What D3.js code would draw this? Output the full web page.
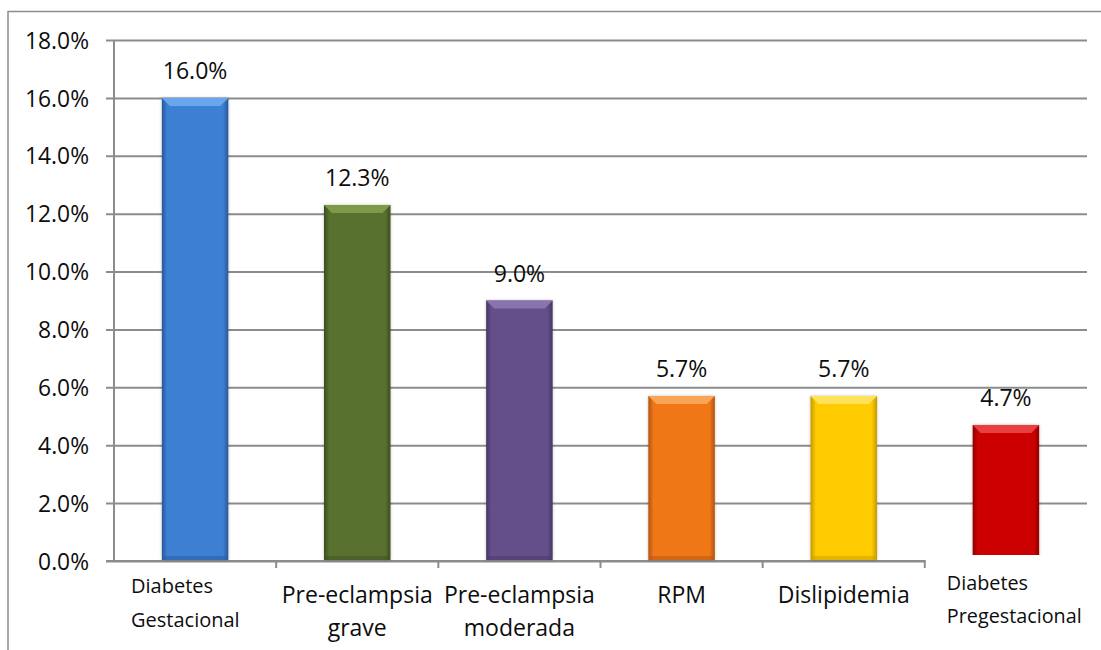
<!DOCTYPE html>
<html>
<head>
<meta charset="utf-8">
<script src="https://cdn.jsdelivr.net/npm/d3@7"></script>
<style>
  html, body { margin: 0; padding: 0; background: #ffffff; }
  svg { display: block; font-family: "Open Sans", "Noto Sans", sans-serif; }
</style>
</head>
<body>
<svg id="chart" width="1101" height="650"></svg>
<script>
// Complicaciones maternas (porcentaje de casos)
const categories = [
  "Diabetes Gestacional",
  "Pre-eclampsia grave",
  "Pre-eclampsia moderada",
  "RPM",
  "Dislipidemia",
  "Diabetes Pregestacional"
];
const labelLines = [
  ["Diabetes", "Gestacional"],
  ["Pre-eclampsia", "grave"],
  ["Pre-eclampsia", "moderada"],
  ["RPM"],
  ["Dislipidemia"],
  ["Diabetes", "Pregestacional"]
];
const values = [0.160, 0.123, 0.090, 0.057, 0.057, 0.047];
const yTicks = [0, 0.02, 0.04, 0.06, 0.08, 0.10, 0.12, 0.14, 0.16, 0.18];

// bar palette: [base, edge, top bevel]
const barColors = [
  ["#3d7fd3", "#28589a", "#6aa6ee"],
  ["#59712f", "#3c4d1e", "#7f9a48"],
  ["#654f8a", "#463664", "#8a74ae"],
  ["#f07719", "#b2520f", "#faa456"],
  ["#fecb00", "#c49a00", "#ffe25a"],
  ["#cc0000", "#8e0000", "#e84040"]
];

const svg = d3.select("#chart");
const W = 1101, H = 650;
const plot = { left: 114, right: 1087, top: 40, bottom: 561 };

const x = d3.scaleBand()
  .domain(categories)
  .range([plot.left, plot.right])
  .paddingInner(0.59)
  .paddingOuter(0.295);

const y = d3.scaleLinear()
  .domain([0, 0.18])
  .range([plot.bottom, plot.top]);

const fmt = d3.format(".1%");
const gridColor = "#8c8c8c";
const textColor = "#0d0d0d";

// outer frame
svg.append("path")
  .attr("d", `M8,${H} L8,11.5 L${W},11.5`)
  .attr("fill", "none")
  .attr("stroke", gridColor)
  .attr("stroke-width", 1.5);

// horizontal gridlines with tick stubs
const yAxis = d3.axisLeft(y)
  .tickValues(yTicks)
  .tickSize(-(plot.right - plot.left))
  .tickFormat(fmt);

const gy = svg.append("g")
  .attr("transform", `translate(${plot.left},0)`)
  .call(yAxis);
gy.select(".domain").remove();
gy.selectAll(".tick line")
  .attr("x1", -8)
  .attr("stroke", gridColor)
  .attr("stroke-width", 2);
gy.selectAll(".tick text")
  .attr("x", -25)
  .attr("dy", "0.36em")
  .attr("fill", textColor)
  .style("font-size", "22.8px")
  .style("font-family", "'Open Sans', sans-serif");

// vertical axis line
svg.append("line")
  .attr("x1", plot.left).attr("x2", plot.left)
  .attr("y1", plot.top).attr("y2", plot.bottom)
  .attr("stroke", gridColor)
  .attr("stroke-width", 2);

// gradients for bars
const defs = svg.append("defs");
barColors.forEach((c, i) => {
  const g = defs.append("linearGradient")
    .attr("id", "bar-grad-" + i)
    .attr("x1", "0").attr("x2", "1").attr("y1", "0").attr("y2", "0");
  g.append("stop").attr("offset", "0").attr("stop-color", c[1]);
  g.append("stop").attr("offset", "0.08").attr("stop-color", c[0]);
  g.append("stop").attr("offset", "0.92").attr("stop-color", c[0]);
  g.append("stop").attr("offset", "1").attr("stop-color", c[1]);
});
const shadow = defs.append("filter").attr("id", "bar-shadow")
  .attr("x", "-20%").attr("y", "-5%").attr("width", "140%").attr("height", "110%");
shadow.append("feDropShadow")
  .attr("dx", 0).attr("dy", 0).attr("stdDeviation", 1.6)
  .attr("flood-color", "#000").attr("flood-opacity", 0.25);

// x axis line and ticks
const xAxisG = svg.append("g");
xAxisG.append("line")
  .attr("x1", plot.left - 8).attr("x2", plot.right)
  .attr("y1", plot.bottom).attr("y2", plot.bottom)
  .attr("stroke", gridColor).attr("stroke-width", 2);
const bounds = categories.slice(1).map(d => x(d) - x.step() * x.paddingInner() / 2);
xAxisG.selectAll("line.tick")
  .data(bounds)
  .join("line")
  .attr("class", "tick")
  .attr("x1", d => d).attr("x2", d => d)
  .attr("y1", plot.bottom).attr("y2", plot.bottom + 7)
  .attr("stroke", gridColor).attr("stroke-width", 2);

// bars
const bevel = 8;
const bars = svg.append("g").selectAll("g.bar")
  .data(values)
  .join("g")
  .attr("class", "bar");

bars.each(function (v, i) {
  const g = d3.select(this);
  const x0 = x(categories[i]);
  const w = x.bandwidth();
  const y0 = y(v);
  const h = y(0) - y0 - 1;
  const c = barColors[i];
  g.append("rect")
    .attr("x", x0).attr("y", y0)
    .attr("width", w).attr("height", h)
    .attr("fill", `url(#bar-grad-${i})`)
    .attr("filter", "url(#bar-shadow)");
  // top bevel
  g.append("path")
    .attr("d", `M${x0},${y0} L${x0 + w},${y0} L${x0 + w - bevel},${y0 + bevel} L${x0 + bevel},${y0 + bevel} Z`)
    .attr("fill", c[2]);
  // bottom shade
  g.append("rect")
    .attr("x", x0 + 2).attr("y", y0 + h - 4)
    .attr("width", w - 4).attr("height", 4)
    .attr("fill", c[1]).attr("opacity", 0.45);
});

// value labels
svg.append("g").selectAll("text")
  .data(values)
  .join("text")
  .attr("x", (d, i) => x(categories[i]) + x.bandwidth() / 2)
  .attr("y", d => y(d) - 19)
  .attr("text-anchor", "middle")
  .attr("fill", textColor)
  .style("font-size", "23px")
  .text(d => fmt(d));

// category labels
const last = categories.length - 1;
// label box of the last category sits over the bar foot
svg.append("rect")
  .attr("x", bounds[bounds.length - 1] + 1)
  .attr("y", y(0) - 6)
  .attr("width", W - bounds[bounds.length - 1] - 8)
  .attr("height", H - y(0) + 6)
  .attr("fill", "#ffffff");

const catG = svg.append("g");
labelLines.forEach((lines, i) => {
  const t = catG.append("text").attr("fill", textColor);
  if (i === 0) {
    t.style("font-size", "20px");
    lines.forEach((s, k) => t.append("tspan").attr("x", 131).attr("y", 593 + k * 34).text(s));
  } else if (i === last) {
    const lx = bounds[bounds.length - 1] + 22;
    t.style("font-size", "19.8px");
    lines.forEach((s, k) => t.append("tspan").attr("x", lx).attr("y", 590 + k * 33).text(s));
  } else {
    const cx = x(categories[i]) + x.bandwidth() / 2;
    t.attr("text-anchor", "middle").style("font-size", "23px");
    lines.forEach((s, k) => t.append("tspan").attr("x", cx).attr("y", 603 + k * 33).text(s));
  }
});
</script>
</body>
</html>
